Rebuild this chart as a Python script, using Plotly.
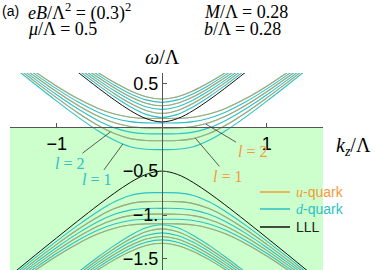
import plotly.graph_objects as go

# ---------------- data ----------------
KZ_HALF = [0.0, 0.15, 0.3, 0.45, 0.6, 0.8, 1.0, 1.2, 1.4, 1.6]   # curves are symmetric in k_z
D_LEVELS = [1, 2, 3, 4, 5, 6]
U_LEVELS = [1, 2, 3]            # u-quark level l coincides with d-quark level 2l

LLL_UPPER = [0.060, 0.098, 0.190, 0.310, 0.442, 0.628, 0.819, 1.012, 1.208, 1.404]
LLL_LOWER = [-0.500, -0.538, -0.630, -0.750, -0.882, -1.068, -1.259, -1.452, -1.648, -1.844]

# d-quark levels l = 1..6 (rows), upper band, spin "-"
UPPER_MINUS = [
    [-0.255, -0.252, -0.223, -0.150, -0.046, 0.118, 0.297, 0.483, 0.674, 0.866],
    [-0.154, -0.152, -0.130, -0.073, 0.016, 0.165, 0.334, 0.513, 0.699, 0.888],
    [-0.076, -0.074, -0.056, -0.008, 0.071, 0.209, 0.369, 0.542, 0.724, 0.910],
    [-0.010, -0.009, 0.007, 0.050, 0.121, 0.250, 0.403, 0.571, 0.748, 0.931],
    [0.048, 0.049, 0.063, 0.102, 0.168, 0.289, 0.436, 0.599, 0.772, 0.952],
    [0.100, 0.101, 0.114, 0.150, 0.211, 0.326, 0.467, 0.626, 0.795, 0.972],
]
UPPER_PLUS = [
    [0.111, 0.146, 0.233, 0.346, 0.473, 0.654, 0.841, 1.032, 1.225, 1.420],
    [0.158, 0.191, 0.272, 0.381, 0.504, 0.680, 0.863, 1.051, 1.242, 1.436],
    [0.203, 0.233, 0.310, 0.414, 0.533, 0.705, 0.885, 1.071, 1.260, 1.451],
    [0.244, 0.273, 0.347, 0.447, 0.562, 0.729, 0.907, 1.090, 1.277, 1.466],
    [0.283, 0.311, 0.381, 0.478, 0.590, 0.754, 0.928, 1.108, 1.293, 1.482],
    [0.321, 0.347, 0.415, 0.508, 0.617, 0.777, 0.949, 1.127, 1.310, 1.497],
]
LOWER_MINUS = [
    [-0.745, -0.748, -0.777, -0.850, -0.954, -1.118, -1.297, -1.483, -1.674, -1.866],
    [-0.846, -0.848, -0.870, -0.927, -1.016, -1.165, -1.334, -1.513, -1.699, -1.888],
    [-0.924, -0.926, -0.944, -0.992, -1.071, -1.209, -1.369, -1.542, -1.724, -1.910],
    [-0.990, -0.991, -1.007, -1.050, -1.121, -1.250, -1.403, -1.571, -1.748, -1.931],
    [-1.048, -1.049, -1.063, -1.102, -1.168, -1.289, -1.436, -1.599, -1.772, -1.952],
    [-1.100, -1.101, -1.114, -1.150, -1.211, -1.326, -1.467, -1.626, -1.795, -1.972],
]
LOWER_PLUS = [
    [-1.111, -1.146, -1.233, -1.346, -1.473, -1.654, -1.841, -2.032, -2.225, -2.420],
    [-1.158, -1.191, -1.272, -1.381, -1.504, -1.680, -1.863, -2.051, -2.242, -2.436],
    [-1.203, -1.233, -1.310, -1.414, -1.533, -1.705, -1.885, -2.071, -2.260, -2.451],
    [-1.244, -1.273, -1.347, -1.447, -1.562, -1.729, -1.907, -2.090, -2.277, -2.466],
    [-1.283, -1.311, -1.381, -1.478, -1.590, -1.754, -1.928, -2.108, -2.293, -2.482],
    [-1.321, -1.347, -1.415, -1.508, -1.617, -1.777, -1.949, -2.127, -2.310, -2.497],
]

TICK_X = [-1, 1]
TICK_X_TEXT = ["\u22121", "1"]
TICK_Y = [0.5, -0.5, -1.0, -1.5]
TICK_Y_TEXT = ["0.5", "\u22120.5", "\u22121.", "\u22121.5"]

X_RANGE = [-1.445, 1.535]
Y_RANGE = [-1.626, 0.617]

ORANGE = "#F39A3C"
CYAN = "#2EC0C6"
BLACK = "#111111"

# ---------------- helpers ----------------
def mirror_x():
    return [-k for k in reversed(KZ_HALF)] + KZ_HALF[1:]

def mirror_y(v):
    return list(reversed(v)) + v[1:]

KZ = mirror_x()

fig = go.Figure()

def add_curve(vals, color, width=1.1, opacity=1.0):
    fig.add_trace(go.Scatter(
        x=KZ, y=mirror_y(vals), mode="lines",
        line=dict(color=color, width=width, shape="spline", smoothing=1.0),
        opacity=opacity, showlegend=False, hoverinfo="skip"))

# d-quark curves
for i, l in enumerate(D_LEVELS):
    for branch in (UPPER_MINUS, UPPER_PLUS, LOWER_MINUS, LOWER_PLUS):
        add_curve(branch[i], CYAN)

# u-quark curves (same values as d-quark level 2l)
for l in U_LEVELS:
    idx = D_LEVELS.index(2 * l)
    for branch in (UPPER_MINUS, UPPER_PLUS, LOWER_MINUS, LOWER_PLUS):
        add_curve(branch[idx], ORANGE, opacity=0.6)

# LLL
add_curve(LLL_UPPER, BLACK, width=1.0)
add_curve(LLL_LOWER, BLACK, width=1.0)

# ---------------- layout ----------------
W, H = 378, 270
ML, MR, MT, MB = 10, 55, 73, 0
pw, ph = W - ML - MR, H - MT - MB

def px_x(p):
    return (p - ML) / pw

def px_y(p):
    return (H - MB - p) / ph

x0_frac = (0 - X_RANGE[0]) / (X_RANGE[1] - X_RANGE[0])
y0_frac = (0 - Y_RANGE[0]) / (Y_RANGE[1] - Y_RANGE[0])

axis_font = dict(family="Liberation Sans, Arial, sans-serif", size=18, color="black")
serif = "Liberation Serif, Times New Roman, serif"
sans = "Liberation Sans, Arial, sans-serif"

# manual legend (line sample + coloured text)
LEGEND_ITEMS = [
    ('<span style="font-family:Liberation Serif"><i>u</i></span>-quark', ORANGE, 192),
    ('<span style="font-family:Liberation Serif"><i>d</i></span>-quark', CYAN, 209),
    ('LLL', BLACK, 227),
]
shapes = [dict(type="rect", xref="paper", yref="y", x0=0, x1=1,
               y0=Y_RANGE[0], y1=0, fillcolor="#CCFFCC", line=dict(width=0),
               layer="below")]
for name, col, py in LEGEND_ITEMS:
    shapes.append(dict(type="line", xref="paper", yref="paper",
                       x0=px_x(260), x1=px_x(290), y0=px_y(py), y1=px_y(py),
                       line=dict(color=col, width=1.5)))
    fig.add_annotation(text=name, xref="paper", yref="paper",
                       x=px_x(294), y=px_y(py), xanchor="left", yanchor="middle",
                       showarrow=False,
                       font=dict(family=sans, size=14,
                                 color=col if col != BLACK else "#222"))

fig.update_layout(
    width=W, height=H, showlegend=False,
    margin=dict(l=ML, r=MR, t=MT, b=MB, autoexpand=False),
    paper_bgcolor="white", plot_bgcolor="white",
    xaxis=dict(range=X_RANGE, anchor="free", position=y0_frac, automargin=False,
               showline=True, linecolor="#555", linewidth=1,
               showgrid=False, zeroline=False,
               ticks="inside", ticklen=4, tickcolor="#555",
               tickvals=TICK_X, ticktext=TICK_X_TEXT, tickfont=axis_font),
    yaxis=dict(range=Y_RANGE, anchor="free", position=x0_frac, automargin=False,
               showline=True, linecolor="#555", linewidth=1,
               showgrid=False, zeroline=False,
               ticks="inside", ticklen=4, tickcolor="#555",
               tickvals=TICK_Y, ticktext=TICK_Y_TEXT, tickfont=axis_font),
    shapes=shapes,
)

def note(text, px, py, size, family=serif, color="black", xanchor="left"):
    fig.add_annotation(text=text, xref="paper", yref="paper",
                       x=px_x(px), y=px_y(py), xanchor=xanchor, yanchor="middle",
                       showarrow=False, font=dict(family=family, size=size, color=color))

note("(a)", 0, 11, 14, family=sans)
note("<i>eB</i>/\u039b<sup>2</sup> = (0.3)<sup>2</sup>", 26, 12, 18)
note("<i>\u03bc</i>/\u039b = 0.5", 26, 29, 18)
note("<i>M</i>/\u039b = 0.28", 202, 12, 18)
note("<i>b</i>/\u039b = 0.28", 202, 29, 18)
note("<i>\u03c9</i>/\u039b", 162, 57, 20, xanchor="center")
note("<i>k</i><sub><i>z</i></sub>/\u039b", 353, 146, 20, xanchor="center")

# level labels with pointer lines
LABELS = [
    ("<i>l</i> = 2", CYAN, -0.49, -0.055, -0.88, -0.41),
    ("<i>l</i> = 1", CYAN, -0.37, -0.19, -0.62, -0.60),
    ("<i>l</i> = 2", ORANGE, 0.42, 0.035, 0.86, -0.28),
    ("<i>l</i> = 1", ORANGE, 0.32, -0.125, 0.63, -0.56),
]
for text, col, tx, ty, lx, ly in LABELS:
    fig.add_annotation(text=text, x=tx, y=ty, ax=lx, ay=ly,
                       xref="x", yref="y", axref="x", ayref="y",
                       showarrow=True, arrowhead=0, arrowwidth=0.8,
                       arrowcolor="#333", standoff=0,
                       font=dict(family=serif, size=16, color=col))

fig.write_html("out.html", config={"displayModeBar": False},
               post_script="document.body.style.margin='0px';document.body.style.padding='0px';")
